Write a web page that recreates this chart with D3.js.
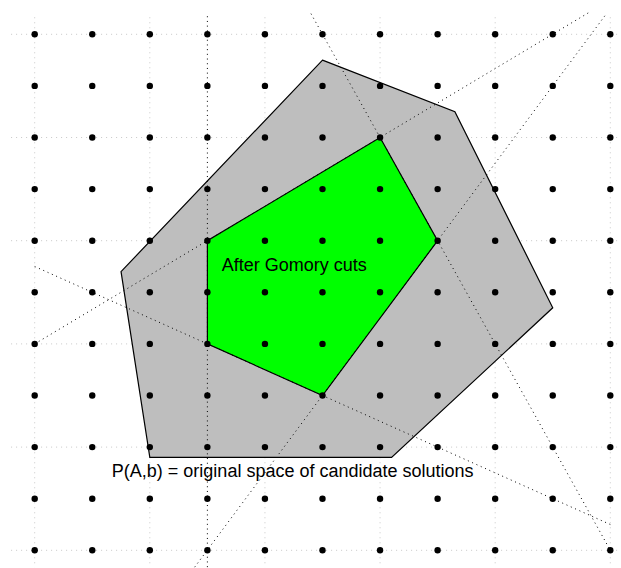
<!DOCTYPE html>
<html>
<head>
<meta charset="utf-8">
<script src="https://cdn.jsdelivr.net/npm/d3@7"></script>
<style>
  body { margin: 0; background: #ffffff; }
  svg { display: block; }
  .gridline { stroke: #c8c8c8; stroke-width: 1; stroke-dasharray: 1,4; fill: none; }
  .cut { stroke: #000000; stroke-width: 1; stroke-dasharray: 1,3.7; fill: none; }
  .hull { stroke: #000000; stroke-width: 1.2; stroke-linejoin: miter; }
  .label { font-family: "Liberation Sans", Arial, Helvetica, sans-serif; font-size: 18px; fill: #000000; }
</style>
</head>
<body>
<svg id="chart" width="621" height="568"></svg>
<script>
// lattice of integer points
const latticeX = [0, 1, 2, 3, 4, 5, 6, 7, 8, 9, 10];
const latticeY = [0, 1, 2, 3, 4, 5, 6, 7, 8, 9, 10];

// light guide lines every second unit
const guideX = [0, 2, 4, 6, 8, 10];
const guideY = [0, 2, 4, 6, 8, 10];

// P(A,b): original polytope
const outerHull = [[5, 9.5], [7.3, 8.5], [9, 4.7], [6.2, 1.8], [2, 1.8], [1.5, 5.4]];

// hull after the Gomory cuts
const gomoryHull = [[6, 8], [7, 6], [5, 3], [3, 4], [3, 6]];

// cutting planes (end points)
const cutLines = [
  [[3, 10.35], [3, -0.4]],
  [[0, 4], [9.64, 10.43]],
  [[0, 5.5], [10, 0.5]],
  [[2.73, -0.4], [9.94, 10.41]],
  [[4.8, 10.4], [10, 0]]
];

// text labels
const labels = [
  {text: "After Gomory cuts", x: 3.25, y: 5.42},
  {text: "P(A,b) = original space of candidate solutions", x: 1.34, y: 1.43}
];

const svg = d3.select("#chart");

const x = d3.scaleLinear().domain([0, 10]).range([34.7, 610.3]);
const y = d3.scaleLinear().domain([0, 10]).range([550.3, 34.3]);

const line = d3.line().x(d => x(d[0])).y(d => y(d[1]));

// guide lines
svg.append("g")
  .selectAll("line.h")
  .data(guideY)
  .join("line")
  .attr("class", "gridline")
  .attr("x1", x(-0.41))
  .attr("x2", x(10.41))
  .attr("y1", d => y(d))
  .attr("y2", d => y(d));

svg.append("g")
  .selectAll("line.v")
  .data(guideX)
  .join("line")
  .attr("class", "gridline")
  .attr("x1", d => x(d))
  .attr("x2", d => x(d))
  .attr("y1", y(10.33))
  .attr("y2", y(-0.33));

// polygons
svg.append("path")
  .datum(outerHull)
  .attr("class", "hull")
  .attr("fill", "#bebebe")
  .attr("d", d => line(d) + "Z");

svg.append("path")
  .datum(gomoryHull)
  .attr("class", "hull")
  .attr("fill", "#00ff00")
  .attr("d", d => line(d) + "Z");

// cuts
svg.append("g")
  .selectAll("path")
  .data(cutLines)
  .join("path")
  .attr("class", "cut")
  .attr("d", line);

// labels
svg.append("g")
  .selectAll("text")
  .data(labels)
  .join("text")
  .attr("class", "label")
  .attr("x", d => x(d.x))
  .attr("y", d => y(d.y))
  .text(d => d.text);

// lattice points
let points = [];
latticeY.forEach(j => {
  latticeX.forEach(i => points.push([i, j]));
});

svg.append("g")
  .selectAll("circle")
  .data(points)
  .join("circle")
  .attr("cx", d => x(d[0]))
  .attr("cy", d => y(d[1]))
  .attr("r", 3.2)
  .attr("fill", "#000000");
</script>
</body>
</html>
